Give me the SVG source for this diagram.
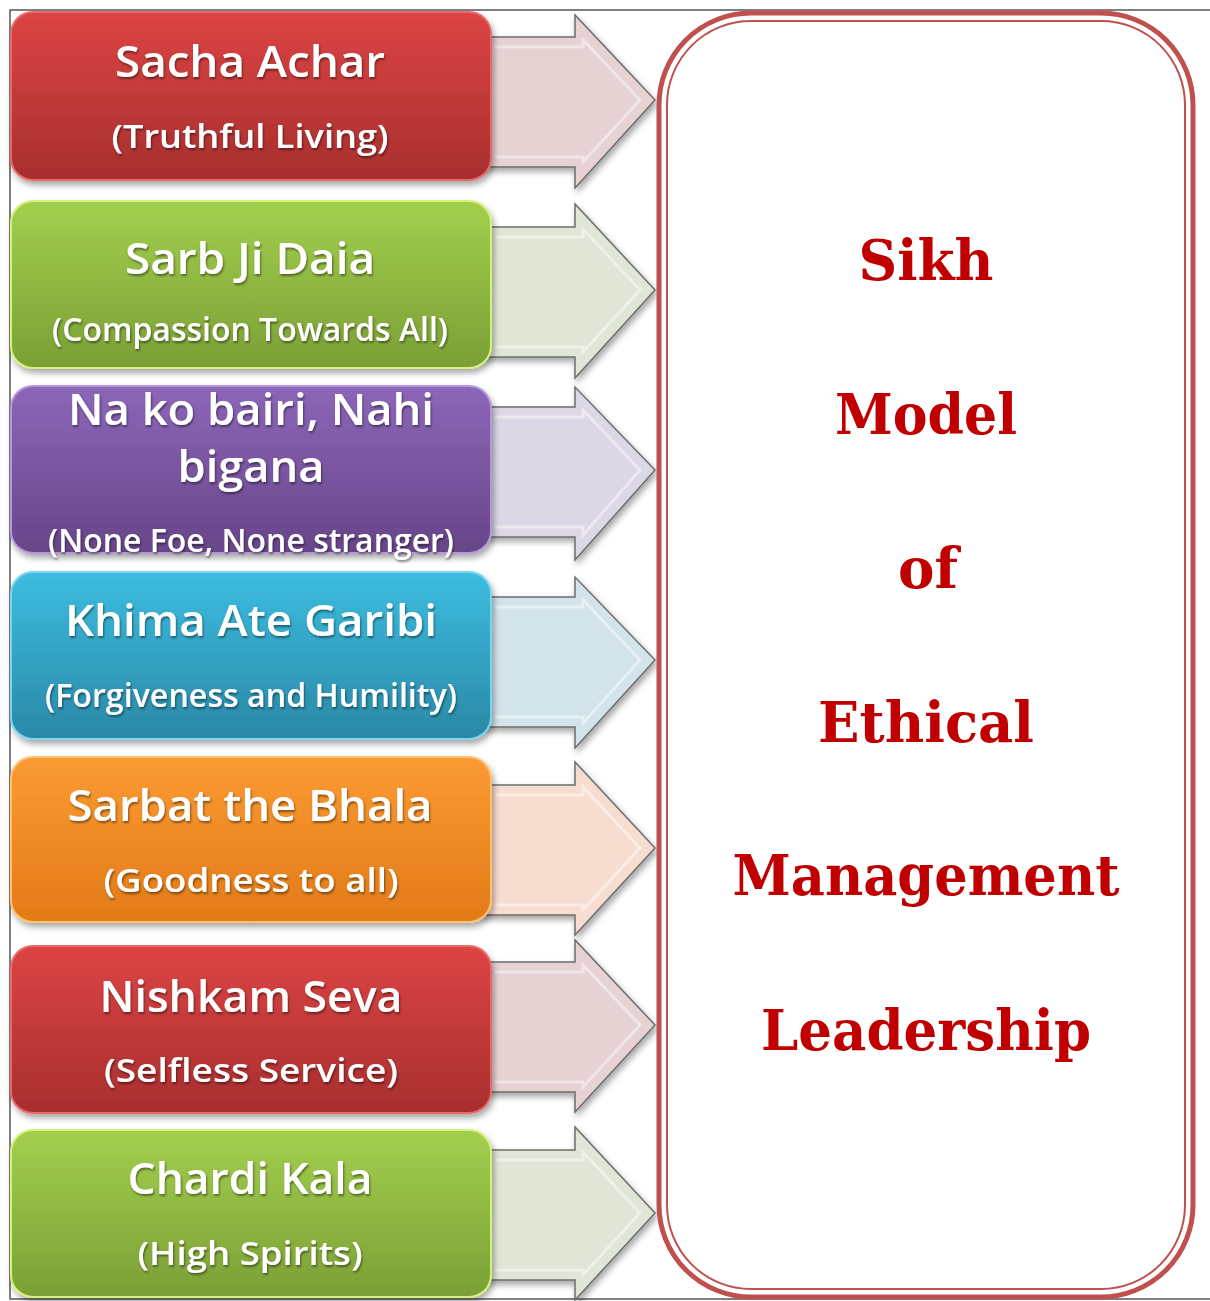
<svg xmlns="http://www.w3.org/2000/svg" width="1210" height="1301" viewBox="0 0 1210 1301">
<style>
.t{font-family:"Open Sans","Liberation Sans",sans-serif;font-weight:600;fill:#fff;text-anchor:middle;}
.h{font-size:44px;}
.s{font-size:33px;}
.r{font-family:"DejaVu Serif","Liberation Serif",serif;font-weight:bold;fill:#c00000;font-size:56px;text-anchor:middle;}
.arrow{stroke:#6e6e6e;stroke-width:1.5;}
.bev{fill:none;stroke:#fff;stroke-opacity:0.45;stroke-width:3;}
.box{stroke-width:2;}
</style>
<defs>
<filter id="sh" x="-10%" y="-10%" width="130%" height="130%">
<feDropShadow dx="2" dy="4" stdDeviation="3" flood-color="#000" flood-opacity="0.35"/>
</filter>
<filter id="ts" x="-5%" y="-20%" width="110%" height="140%">
<feDropShadow dx="1" dy="2" stdDeviation="1.2" flood-color="#000" flood-opacity="0.45"/>
</filter>
<linearGradient id="gR" x1="0" y1="0" x2="0" y2="1"><stop offset="0" stop-color="#dd4444"/><stop offset="1" stop-color="#a82e2e"/></linearGradient>
<linearGradient id="gG" x1="0" y1="0" x2="0" y2="1"><stop offset="0" stop-color="#a3cf4d"/><stop offset="1" stop-color="#7b9f36"/></linearGradient>
<linearGradient id="gP" x1="0" y1="0" x2="0" y2="1"><stop offset="0" stop-color="#8c66b8"/><stop offset="1" stop-color="#674589"/></linearGradient>
<linearGradient id="gB" x1="0" y1="0" x2="0" y2="1"><stop offset="0" stop-color="#3cbde0"/><stop offset="1" stop-color="#2a88a6"/></linearGradient>
<linearGradient id="gO" x1="0" y1="0" x2="0" y2="1"><stop offset="0" stop-color="#fb9b33"/><stop offset="1" stop-color="#e27a17"/></linearGradient>
</defs>

<rect x="10" y="10" width="1215" height="1289" fill="#fff" stroke="#555" stroke-width="1.5"/>

<g id="connectors">
<g filter="url(#sh)">
<polygon class="arrow" fill="#e6d2d2" points="480,37 575,37 575,15 655,100 575,188 575,167 480,167"/>
<polygon class="arrow" fill="#dfe6d5" points="480,227 575,227 575,204 655,290 575,378 575,357 480,357"/>
<polygon class="arrow" fill="#dcd7e4" points="480,407 575,407 575,387 655,470 575,560 575,537 480,537"/>
<polygon class="arrow" fill="#d3e3ea" points="480,597 575,597 575,577 655,660 575,748 575,727 480,727"/>
<polygon class="arrow" fill="#f7dcd0" points="480,785 575,785 575,762 655,848 575,935 575,915 480,915"/>
<polygon class="arrow" fill="#e6d2d2" points="480,962 575,962 575,940 655,1025 575,1112 575,1092 480,1092"/>
<polygon class="arrow" fill="#dfe6d5" points="480,1150 575,1150 575,1127 655,1213 575,1300 575,1280 480,1280"/>
</g>
<g class="bev">
<polyline points="495,47 583,47 583,40 640,100 583,162 583,157 495,157"/>
<polyline points="495,237 583,237 583,229 640,290 583,352 583,347 495,347"/>
<polyline points="495,417 583,417 583,410 640,470 583,535 583,527 495,527"/>
<polyline points="495,607 583,607 583,600 640,660 583,723 583,717 495,717"/>
<polyline points="495,795 583,795 583,787 640,848 583,910 583,905 495,905"/>
<polyline points="495,972 583,972 583,965 640,1025 583,1087 583,1082 495,1082"/>
<polyline points="495,1160 583,1160 583,1152 640,1213 583,1275 583,1270 495,1270"/>
</g>
</g>

<g id="n1"><rect class="box" x="11" y="12" width="480" height="168" rx="22" fill="url(#gR)" stroke="#e86a6a" filter="url(#sh)"/>
<g filter="url(#ts)"><text class="t h" x="250" y="77" textLength="270" lengthAdjust="spacingAndGlyphs">Sacha Achar</text>
<text class="t s" x="250" y="148" textLength="277" lengthAdjust="spacingAndGlyphs">(Truthful Living)</text></g></g>

<g id="n2"><rect class="box" x="11" y="201" width="480" height="167" rx="22" fill="url(#gG)" stroke="#d6f27a" filter="url(#sh)"/>
<g filter="url(#ts)"><text class="t h" x="250" y="274" textLength="250" lengthAdjust="spacingAndGlyphs">Sarb Ji Daia</text>
<text class="t s" x="250" y="341" textLength="396" lengthAdjust="spacingAndGlyphs">(Compassion Towards All)</text></g></g>

<g id="n3"><rect class="box" x="11" y="386" width="480" height="167" rx="22" fill="url(#gP)" stroke="#b598dc" filter="url(#sh)"/>
<g filter="url(#ts)"><text class="t h" x="251" y="425" textLength="366" lengthAdjust="spacingAndGlyphs">Na ko bairi, Nahi</text>
<text class="t h" x="251" y="482" textLength="147" lengthAdjust="spacingAndGlyphs">bigana</text>
<text class="t s" x="251" y="552" textLength="406" lengthAdjust="spacingAndGlyphs">(None Foe, None stranger)</text></g></g>

<g id="n4"><rect class="box" x="11" y="572" width="480" height="167" rx="22" fill="url(#gB)" stroke="#7ad6f0" filter="url(#sh)"/>
<g filter="url(#ts)"><text class="t h" x="251" y="636" textLength="372" lengthAdjust="spacingAndGlyphs">Khima Ate Garibi</text>
<text class="t s" x="251" y="707" textLength="412" lengthAdjust="spacingAndGlyphs">(Forgiveness and Humility)</text></g></g>

<g id="n5"><rect class="box" x="11" y="757" width="480" height="165" rx="22" fill="url(#gO)" stroke="#ffc070" filter="url(#sh)"/>
<g filter="url(#ts)"><text class="t h" x="250" y="821" textLength="365" lengthAdjust="spacingAndGlyphs">Sarbat the Bhala</text>
<text class="t s" x="251" y="892" textLength="295" lengthAdjust="spacingAndGlyphs">(Goodness to all)</text></g></g>

<g id="n6"><rect class="box" x="11" y="946" width="480" height="167" rx="22" fill="url(#gR)" stroke="#e86a6a" filter="url(#sh)"/>
<g filter="url(#ts)"><text class="t h" x="251" y="1012" textLength="303" lengthAdjust="spacingAndGlyphs">Nishkam Seva</text>
<text class="t s" x="251" y="1082" textLength="294" lengthAdjust="spacingAndGlyphs">(Selfless Service)</text></g></g>

<g id="n7"><rect class="box" x="11" y="1130" width="480" height="167" rx="22" fill="url(#gG)" stroke="#d6f27a" filter="url(#sh)"/>
<g filter="url(#ts)"><text class="t h" x="250" y="1194" textLength="245" lengthAdjust="spacingAndGlyphs">Chardi Kala</text>
<text class="t s" x="250" y="1265" textLength="225" lengthAdjust="spacingAndGlyphs">(High Spirits)</text></g></g>

<g id="main">
<rect x="659" y="13" width="534" height="1284" rx="92" fill="#fff" stroke="#c0504d" stroke-width="5"/>
<rect x="667" y="21" width="518" height="1268" rx="84" fill="none" stroke="#c0504d" stroke-width="2"/>
<text class="r" x="926" y="280" textLength="135" lengthAdjust="spacingAndGlyphs">Sikh</text>
<text class="r" x="926" y="434" textLength="182" lengthAdjust="spacingAndGlyphs">Model</text>
<text class="r" x="928" y="588" textLength="60" lengthAdjust="spacingAndGlyphs">of</text>
<text class="r" x="926" y="742" textLength="216" lengthAdjust="spacingAndGlyphs">Ethical</text>
<text class="r" x="926" y="895" textLength="387" lengthAdjust="spacingAndGlyphs">Management</text>
<text class="r" x="926" y="1050" textLength="330" lengthAdjust="spacingAndGlyphs">Leadership</text>
</g>
</svg>
